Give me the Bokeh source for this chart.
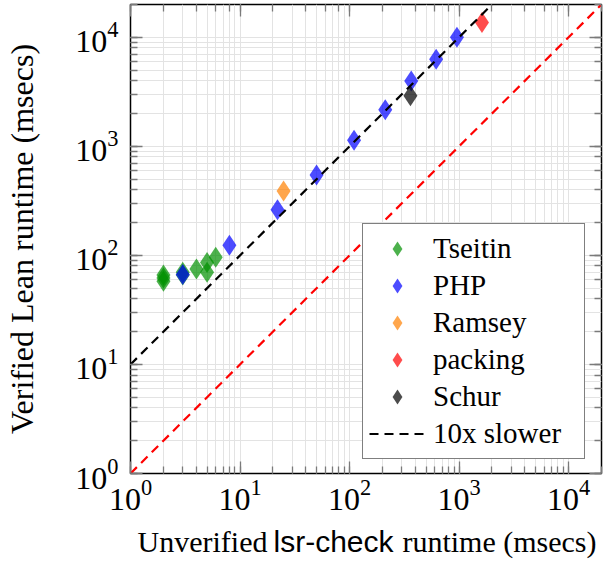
from bokeh.plotting import figure
from bokeh.models import LogAxis, Legend, LegendItem, Label, CustomJSTickFormatter, Range1d
from bokeh.layouts import column
from bokeh.embed import file_html
from bokeh.resources import INLINE

# ---- data (msecs) ----
tseitin_x = [2, 2, 2, 3, 3, 4, 5, 5, 6]
tseitin_y = [58, 62, 66, 66, 70, 75, 70, 86, 96]
php_x = [3, 8, 22, 50, 110, 212, 366, 618, 957]
php_y = [67, 124, 262, 545, 1135, 2170, 3980, 6310, 10000]
ramsey_x = [25]
ramsey_y = [390]
packing_x = [1620]
packing_y = [13700]
schur_x = [360]
schur_y = [2910]
# reference lines
equal_x = [1, 20000]
slow_factor = 10
slow_x = [1, 2000]
slow_y = [v * slow_factor for v in slow_x]

SERIF = "Liberation Serif"
SANS = "Liberation Sans"

p = figure(width=604, height=520, x_axis_type="log", y_axis_type="log",
           x_range=(1, 20000), y_range=(1, 20000),
           output_backend="svg", toolbar_location=None,
           min_border_left=130, min_border_right=2,
           min_border_top=1, min_border_bottom=47)

p.background_fill_color = "white"
p.border_fill_color = "white"
p.outline_line_color = "black"
p.outline_line_width = 1.5

p.grid.grid_line_color = "#e3e3e3"
p.grid.minor_grid_line_color = "#e3e3e3"
p.grid.grid_line_width = 1
p.grid.minor_grid_line_width = 1

for ax in (p.xaxis[0], p.yaxis[0]):
    ax.axis_line_color = None
    ax.major_tick_in = 12
    ax.major_tick_out = 0
    ax.minor_tick_in = 7
    ax.minor_tick_out = 0
    ax.major_tick_line_color = "#7a7a7a"
    ax.minor_tick_line_color = "#7a7a7a"
    ax.major_tick_line_width = 1.3
    ax.minor_tick_line_width = 1.3
    ax.major_label_text_font = SERIF
    ax.major_label_text_font_size = "32px"
    ax.major_label_text_color = "black"

p.xaxis.major_label_standoff = 6
p.yaxis.major_label_standoff = 12
p.xaxis.axis_label = None
p.yaxis.axis_label = "Verified Lean runtime (msecs)"
p.yaxis.axis_label_text_font = SERIF
p.yaxis.axis_label_text_font_size = "32px"
p.yaxis.axis_label_text_font_style = "normal"
p.yaxis.axis_label_text_color = "black"
p.yaxis.axis_label_standoff = 32

for place in ("above", "right"):
    ax = LogAxis(axis_line_color=None, major_tick_in=12, major_tick_out=0,
                 minor_tick_in=7, minor_tick_out=0,
                 major_tick_line_color="#7a7a7a", minor_tick_line_color="#7a7a7a",
                 major_tick_line_width=1.3, minor_tick_line_width=1.3,
                 formatter=CustomJSTickFormatter(code="return ' '"),
                 major_label_text_font_size="1px", major_label_standoff=0)
    p.add_layout(ax, place)

common = dict(marker="diamond", size=21, line_color=None, fill_alpha=0.7)
r_ts = p.scatter(tseitin_x, tseitin_y, fill_color="#009000", **common)
r_php = p.scatter(php_x, php_y, fill_color="#0000ff", **common)
r_ram = p.scatter(ramsey_x, ramsey_y, fill_color="#ff8000", **common)
r_pack = p.scatter(packing_x, packing_y, fill_color="#ff0000", **common)
r_schur = p.scatter(schur_x, schur_y, fill_color="#000000", **common)

p.line(equal_x, equal_x, line_color="red", line_width=2.2, line_dash="9 6")
r_slow = p.line(slow_x, slow_y, line_color="black", line_width=2.2, line_dash="9 6")

legend = Legend(items=[
    LegendItem(label="Tseitin", renderers=[r_ts]),
    LegendItem(label="PHP", renderers=[r_php]),
    LegendItem(label="Ramsey", renderers=[r_ram]),
    LegendItem(label="packing", renderers=[r_pack]),
    LegendItem(label="Schur", renderers=[r_schur]),
    LegendItem(label="10x slower", renderers=[r_slow]),
], location=(232, 14), margin=0, padding=6, spacing=0,
    glyph_height=37, glyph_width=56, label_standoff=8, label_width=145,
    label_height=20,
    label_text_font=SERIF, label_text_font_size="29px", label_text_color="black",
    label_text_baseline="middle",
    border_line_color="black", border_line_width=1.3,
    background_fill_color="white", background_fill_alpha=1.0)
p.add_layout(legend)

# strip below the plot carrying the x-axis title (mixed fonts);
# its frame is aligned with the main plot's frame by the column layout
q = figure(width=604, height=43, x_range=Range1d(0, 604), y_range=Range1d(0, 43),
           output_backend="svg", toolbar_location=None,
           x_axis_location=None, y_axis_location=None,
           min_border=0, min_border_left=0, min_border_right=0,
           min_border_top=0, min_border_bottom=0)
q.outline_line_color = None
q.grid.visible = False
q.background_fill_color = "white"
q.border_fill_color = "white"

lab = dict(x_units="screen", y_units="screen", text_font_size="30px",
           text_baseline="alphabetic", text_color="black")
q.add_layout(Label(x=7, y=22, text="Unverified", text_font=SERIF,
                   text_align="left", **lab))
q.add_layout(Label(x=143, y=22, text="lsr-check", text_font=SANS,
                   text_align="left", **lab))
q.add_layout(Label(x=466, y=22, text="runtime (msecs)", text_font=SERIF,
                   text_align="right", **lab))

layout = column(p, q, spacing=0)
open("out.html", "w").write(file_html(layout, INLINE))
